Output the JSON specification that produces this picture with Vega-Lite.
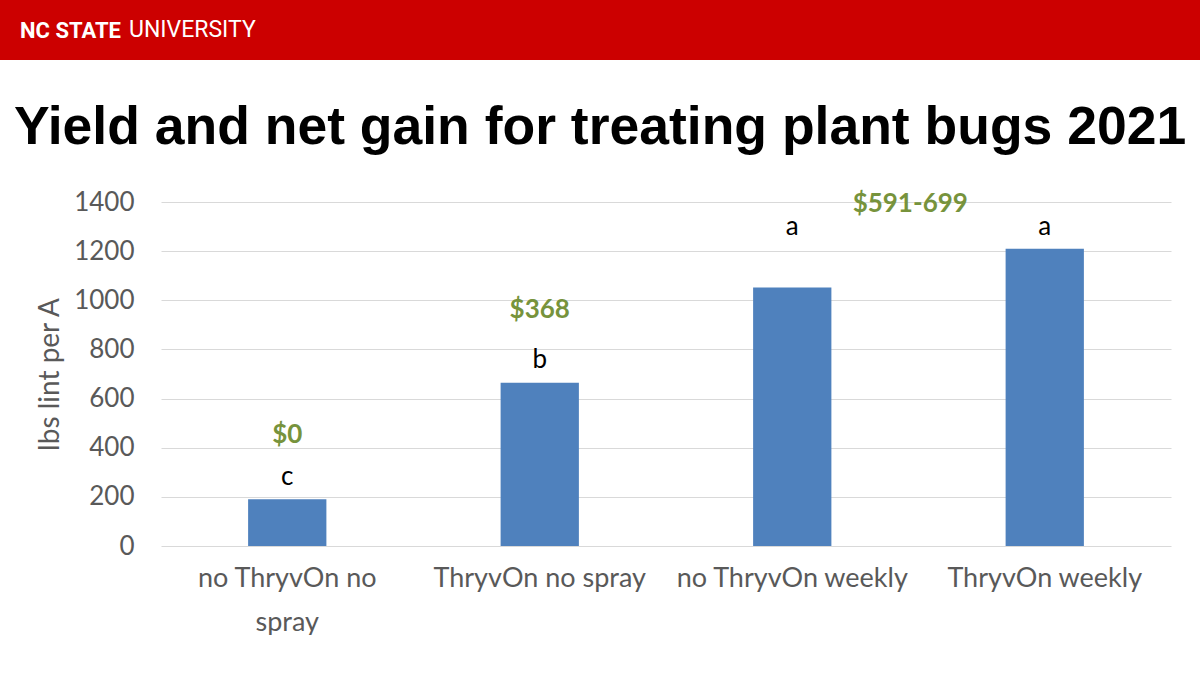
{
  "$schema": "https://vega.github.io/schema/vega-lite/v6.json",
  "background": "white",
  "padding": 0,
  "spacing": 40,
  "config": {"view": {"stroke": null}, "font": "Lato"},
  "datasets": {
    "yields": [
      {"treatment": "no ThryvOn no spray", "yield": 190, "letter": "c", "letterY": 247, "gain": "$0", "gainY": 419},
      {"treatment": "ThryvOn no spray", "yield": 664, "letter": "b", "letterY": 724, "gain": "$368", "gainY": 928},
      {"treatment": "no ThryvOn weekly", "yield": 1052, "letter": "a", "letterY": 1266, "gain": "$591-699", "gainY": 1360},
      {"treatment": "ThryvOn weekly", "yield": 1210, "letter": "a", "letterY": 1266, "gain": null, "gainY": null}
    ],
    "blank": [{"t": ""}]
  },
  "vconcat": [
    {
      "spacing": 0,
      "hconcat": [
        {
          "width": 125,
          "height": 60,
          "view": {"fill": "#CC0000", "stroke": null},
          "title": {"text": "NC STATE", "anchor": "start", "frame": "group", "orient": "top", "offset": -60, "dx": 20, "limit": 400, "baseline": "alphabetic", "font": "Roboto", "fontWeight": "bold", "fontSize": 22, "color": "white"},
          "data": {"name": "blank"},
          "mark": "text",
          "encoding": {"text": {"field": "t"}}
        },
        {
          "width": 1075,
          "height": 60,
          "view": {"fill": "#CC0000", "stroke": null},
          "title": {"text": "UNIVERSITY", "anchor": "start", "frame": "group", "orient": "top", "offset": -60, "dx": 4, "limit": 400, "baseline": "alphabetic", "font": "Roboto", "fontWeight": "normal", "fontSize": 23, "color": "white"},
          "data": {"name": "blank"},
          "mark": "text",
          "encoding": {"text": {"field": "t"}}
        }
      ]
    },
    {
      "title": {"text": "Yield and net gain for treating plant bugs 2021", "anchor": "start", "frame": "group", "orient": "top", "dx": 14, "offset": -8, "baseline": "alphabetic", "font": "Liberation Sans", "fontWeight": "bold", "fontSize": 53.5, "color": "black"},
      "spacing": 0,
      "hconcat": [
        {
          "width": 36,
          "height": 344,
          "data": {"name": "blank"},
          "mark": "text",
          "encoding": {"text": {"field": "t"}}
        },
        {
          "width": 1010,
          "height": 344,
          "data": {"name": "yields"},
          "encoding": {
            "x": {
              "field": "treatment",
              "type": "nominal",
              "sort": null,
              "scale": {"paddingInner": 0.69, "paddingOuter": 0.345},
              "axis": {
                "title": null,
                "labelAngle": 0,
                "domain": false,
                "ticks": false,
                "labelPadding": 19,
                "labelFontSize": 27,
                "labelColor": "#595959",
                "labelLineHeight": 44,
                "labelLimit": 400,
                "labelExpr": "datum.value == 'no ThryvOn no spray' ? ['no ThryvOn no', 'spray'] : datum.value"
              }
            }
          },
          "layer": [
            {
              "mark": {"type": "bar", "color": "#4F81BD"},
              "encoding": {
                "y": {
                  "field": "yield",
                  "type": "quantitative",
                  "scale": {"domain": [0, 1400], "nice": false},
                  "axis": {
                    "title": "lbs lint per A",
                    "titleFontSize": 28,
                    "titleFontWeight": "normal",
                    "titleColor": "#595959",
                    "titlePadding": 9,
                    "values": [0, 200, 400, 600, 800, 1000, 1200, 1400],
                    "format": "d",
                    "domain": false,
                    "ticks": false,
                    "grid": true,
                    "gridColor": "#D9D9D9",
                    "gridWidth": 1,
                    "labelFontSize": 26,
                    "labelColor": "#595959",
                    "labelPadding": 27
                  }
                }
              }
            },
            {
              "mark": {"type": "text", "baseline": "alphabetic", "fontSize": 26, "color": "black"},
              "encoding": {
                "y": {"field": "letterY", "type": "quantitative"},
                "text": {"field": "letter"}
              }
            },
            {
              "transform": [{"filter": "datum.gain != null && datum.treatment != 'no ThryvOn weekly'"}],
              "mark": {"type": "text", "baseline": "alphabetic", "fontSize": 26, "fontWeight": "bold", "color": "#77933C"},
              "encoding": {
                "y": {"field": "gainY", "type": "quantitative"},
                "text": {"field": "gain"}
              }
            },
            {
              "transform": [{"filter": "datum.treatment == 'no ThryvOn weekly'"}],
              "mark": {"type": "text", "baseline": "alphabetic", "fontSize": 26, "fontWeight": "bold", "color": "#77933C", "dx": 118},
              "encoding": {
                "y": {"field": "gainY", "type": "quantitative"},
                "text": {"field": "gain"}
              }
            }
          ]
        }
      ]
    }
  ]
}
